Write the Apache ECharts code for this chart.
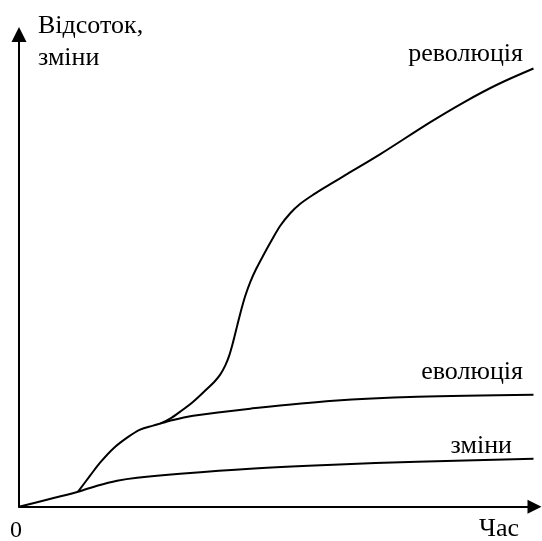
<!DOCTYPE html>
<html>
<head>
<meta charset="utf-8">
<script src="https://cdn.jsdelivr.net/npm/echarts@6/dist/echarts.min.js"></script>
<style>
html,body{margin:0;padding:0;background:#fff;}
#chart{width:542px;height:541px;}
</style>
</head>
<body>
<div id="chart"></div>
<script>
// Data (time, percent of change), arbitrary units.
// "зміни" starts at the origin; "еволюція" branches off "зміни", "революція" branches off "еволюція".
const changesX    = [0, 59, 78, 98, 118, 161, 231, 314, 398, 514];
const changesY    = [0, 15, 21, 26, 29, 33, 38, 42, 45, 48];
const evolutionX  = [59, 71, 81, 94, 108, 121, 134, 151, 174, 231, 314, 398, 514];
const evolutionY  = [15, 31, 44, 58, 69, 77, 81, 86, 91, 98, 106, 110, 112];
const revolutionX = [141, 151, 161, 174, 188, 195, 201, 206, 210, 214, 218, 222, 226, 231, 237, 244, 252, 261, 271, 281, 294, 311, 328, 361, 411, 444, 478, 514];
const revolutionY = [83, 88, 95, 105, 118, 124.7, 132, 141, 151, 165, 181, 196.6, 210.6, 224.6, 237.8, 251.1, 265.5, 280.8, 293.3, 302.8, 311.9, 322.4, 332.6, 352.4, 384.4, 404, 422, 438];
const seriesNames = ['зміни', 'еволюція', 'революція'];
const axisNames = { x: 'Час', y: 'Відсоток,\nзміни', origin: '0' };

const zip = (xs, ys) => xs.map((x, i) => [x, ys[i]]);
const font = '26px "Liberation Serif", "Times New Roman", serif';
const fontDigit = '24px "Liberation Serif", "Times New Roman", serif';

const chart = echarts.init(document.getElementById('chart'), null, { renderer: 'canvas' });
const lineSeries = (name, xs, ys) => ({
  name, type: 'line', data: zip(xs, ys), showSymbol: false, symbol: 'none',
  smooth: 0.33,
  lineStyle: { color: '#000', width: 2 }, silent: true, animation: false
});
chart.setOption({
  animation: false,
  backgroundColor: '#fff',
  grid: { left: 19, right: 7.5, top: 34.5, bottom: 34.3, containLabel: false },
  xAxis: {
    type: 'value', min: 0, max: 515,
    axisLine: { lineStyle: { color: '#000', width: 2 }, symbol: ['none', 'triangle'], symbolSize: [14, 14] },
    axisTick: { show: false }, axisLabel: { show: false }, splitLine: { show: false }
  },
  yAxis: {
    type: 'value', min: 0, max: 472,
    axisLine: { show: true, lineStyle: { color: '#000', width: 2 }, symbol: ['none', 'triangle'], symbolSize: [15, 15] },
    axisTick: { show: false }, axisLabel: { show: false }, splitLine: { show: false }
  },
  series: [
    lineSeries(seriesNames[0], changesX, changesY),
    lineSeries(seriesNames[1], evolutionX, evolutionY),
    lineSeries(seriesNames[2], revolutionX, revolutionY)
  ],
  graphic: [
    { type: 'text', style: { text: axisNames.y, x: 38, y: 42.2, font, fill: '#000', align: 'left', verticalAlign: 'middle', lineHeight: 32 } },
    { type: 'text', style: { text: seriesNames[2], x: 523, y: 63 - 8.8, font, fill: '#000', align: 'right', verticalAlign: 'middle' } },
    { type: 'text', style: { text: seriesNames[1], x: 523, y: 381 - 8.8, font, fill: '#000', align: 'right', verticalAlign: 'middle' } },
    { type: 'text', style: { text: seriesNames[0], x: 512, y: 455 - 8.8, font, fill: '#000', align: 'right', verticalAlign: 'middle' } },
    { type: 'text', style: { text: axisNames.origin, x: 10, y: 539 - 8.1, font: fontDigit, fill: '#000', align: 'left', verticalAlign: 'middle' } },
    { type: 'text', style: { text: axisNames.x, x: 519, y: 538 - 8.8, font, fill: '#000', align: 'right', verticalAlign: 'middle' } }
  ]
});
</script>
</body>
</html>
